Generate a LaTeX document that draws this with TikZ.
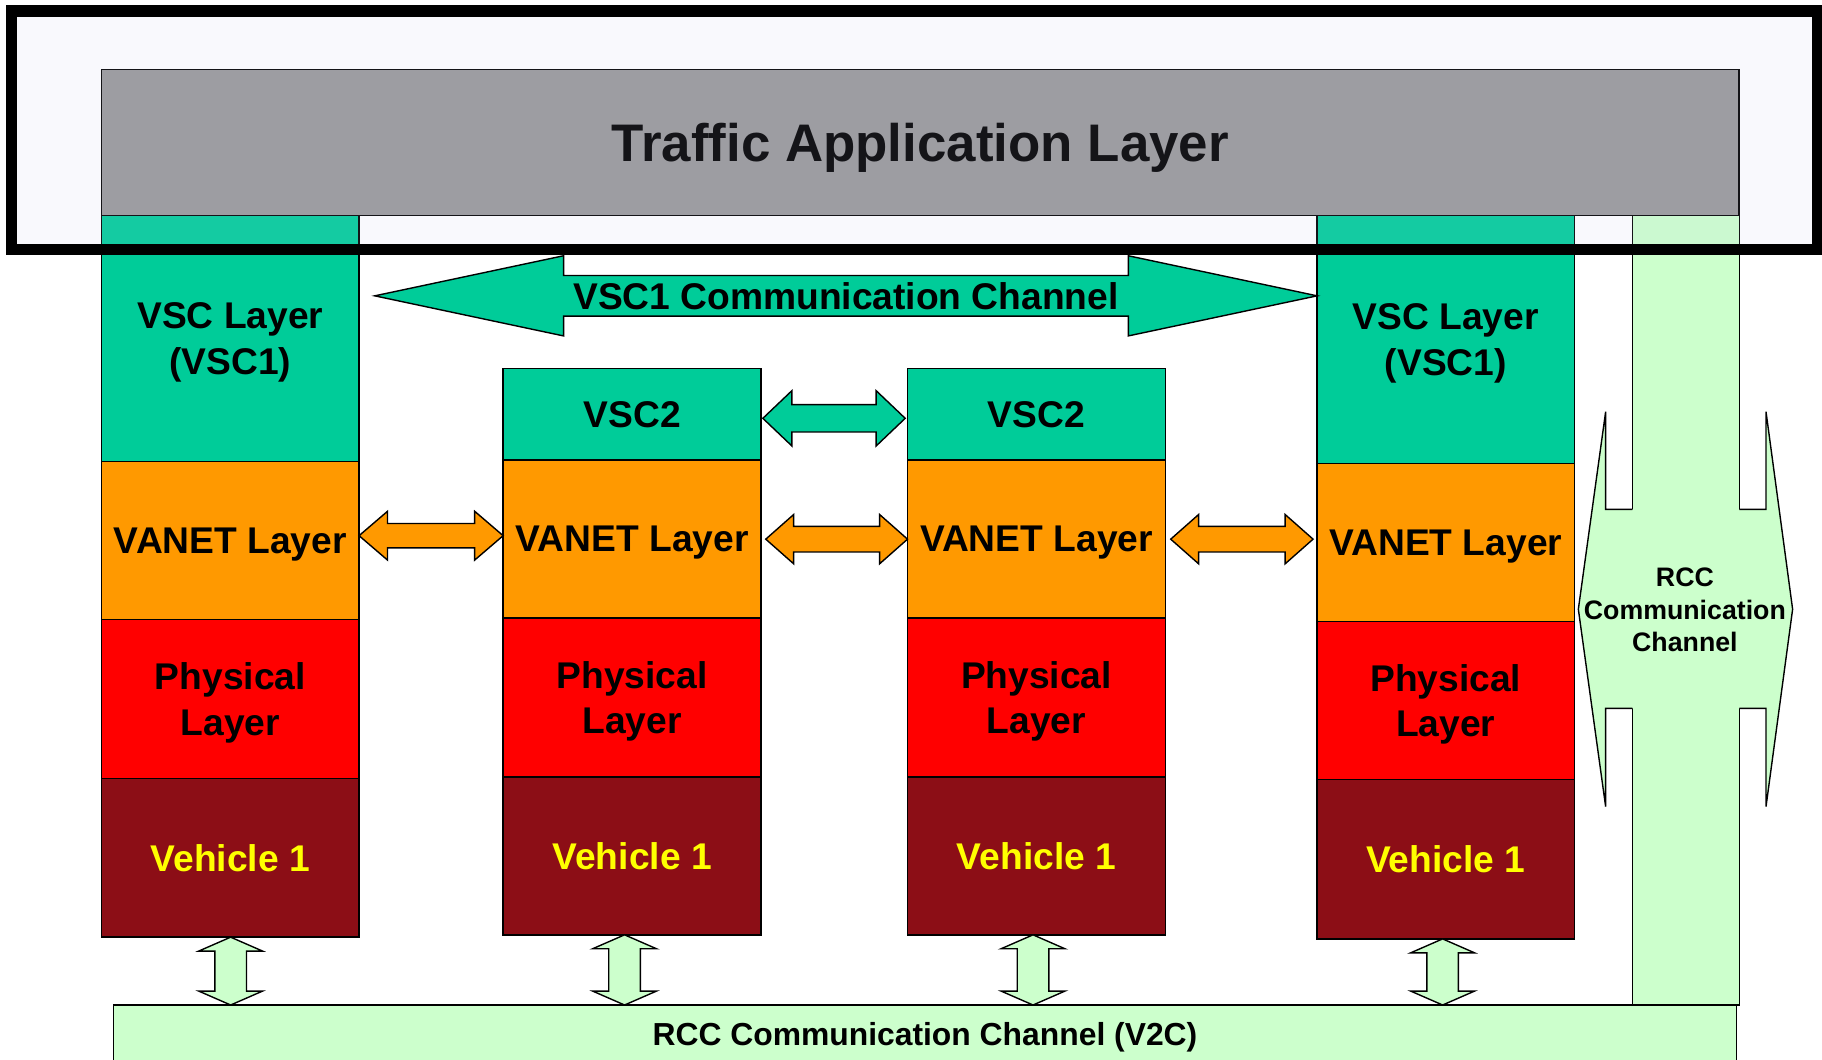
\documentclass[tikz,border=0pt]{standalone}
\usepackage{fontspec}
\setmainfont{Liberation Sans}
\usetikzlibrary{calc}
\definecolor{tgray}{HTML}{999999}
\definecolor{tealc}{HTML}{00CC99}
\definecolor{orng}{HTML}{FF9900}
\definecolor{redl}{HTML}{FF0000}
\definecolor{dred}{HTML}{8C0E16}
\definecolor{ylw}{HTML}{FFFF00}
\definecolor{lgreen}{HTML}{CCFFCC}
\definecolor{lav}{RGB}{200,200,245}
% horizontal double arrow: style, left tip, right tip, head length, head half width, shaft half width
\newcommand\HArr[6]{%
  \draw[#1] let \p1=#2, \p2=#3 in
    (\x1,\y1) -- (\x1+#4,\y1+#5) -- (\x1+#4,\y1+#6) -- (\x2-#4,\y1+#6) -- (\x2-#4,\y1+#5) -- (\x2,\y1)
    -- (\x2-#4,\y1-#5) -- (\x2-#4,\y1-#6) -- (\x1+#4,\y1-#6) -- (\x1+#4,\y1-#5) -- cycle;}
% vertical double arrow: style, top tip, bottom point (y used), head length, head half width, shaft half width
\newcommand\VArr[6]{%
  \draw[#1] let \p1=#2, \p2=#3 in
    (\x1,\y1) -- (\x1+#5,\y1-#4) -- (\x1+#6,\y1-#4) -- (\x1+#6,\y2+#4) -- (\x1+#5,\y2+#4) -- (\x1,\y2)
    -- (\x1-#5,\y2+#4) -- (\x1-#6,\y2+#4) -- (\x1-#6,\y1-#4) -- (\x1-#5,\y1-#4) -- cycle;}
\begin{document}
\begin{tikzpicture}[x=1pt,y=-1pt,
  box/.style={draw, line width=1.3pt, inner sep=0pt, outer sep=0pt, anchor=north west,
    align=center, text depth=0pt, font=\fontsize{32}{39}\selectfont\bfseries},
  vscbox/.style={box, fill=tealc},
  vanetbox/.style={box, fill=orng},
  physbox/.style={box, fill=redl},
  vehbox/.style={box, fill=dred, text=ylw},
  tarr/.style={draw, line width=1.2pt, fill=tealc, line join=miter},
  oarr/.style={draw, line width=1.2pt, fill=orng, line join=miter},
  garr/.style={draw, line width=1.2pt, fill=lgreen, line join=miter},
  lbl/.style={inner sep=0pt, align=center, font=\bfseries}
]
\useasboundingbox (0,0) rectangle (1568,912);
\fill[white] (0,0) rectangle (1568,912);

% bottom RCC bar
\node[box, fill=lgreen, minimum width=1397pt, minimum height=50pt,
  font=\fontsize{27.4}{33}\selectfont\bfseries] (bar) at (97.5,864.9) {RCC Communication Channel (V2C)};

% right RCC column
\draw[line width=1.3pt, fill=lgreen] (1404.8,185.4) rectangle (1496.8,864.9);

% Traffic application layer
\node[box, fill=tgray, minimum width=1409pt, minimum height=125.7pt,
  font=\fontsize{45.5}{54}\selectfont\bfseries] (tal) at (87.5,59.7) {Traffic Application Layer};

% column 1
\node[vscbox, minimum width=221.5pt, minimum height=211.6pt] (c1s) at (87.5,185.4) {VSC Layer\\(VSC1)};
\node[vanetbox, minimum width=221.5pt, minimum height=136pt] (c1v) at (87.5,397) {VANET Layer};
\node[physbox, minimum width=221.5pt, minimum height=137pt] (c1p) at (87.5,533) {Physical\\Layer};
\node[vehbox, minimum width=221.5pt, minimum height=136.5pt] (c1h) at (87.5,670) {Vehicle 1};

% column 2
\node[vscbox, minimum width=222pt, minimum height=79pt] (c2s) at (433,317) {VSC2};
\node[vanetbox, minimum width=222pt, minimum height=136pt] (c2v) at (433,396) {VANET Layer};
\node[physbox, minimum width=222pt, minimum height=136.5pt] (c2p) at (433,532) {Physical\\Layer};
\node[vehbox, minimum width=222pt, minimum height=136pt] (c2h) at (433,668.5) {Vehicle 1};

% column 3
\node[vscbox, minimum width=222pt, minimum height=79pt] (c3s) at (781,317) {VSC2};
\node[vanetbox, minimum width=222pt, minimum height=136pt] (c3v) at (781,396) {VANET Layer};
\node[physbox, minimum width=222pt, minimum height=136.5pt] (c3p) at (781,532) {Physical\\Layer};
\node[vehbox, minimum width=222pt, minimum height=136pt] (c3h) at (781,668.5) {Vehicle 1};

% column 4
\node[vscbox, minimum width=221.5pt, minimum height=213.6pt] (c4s) at (1133.5,185.4) {VSC Layer\\(VSC1)};
\node[vanetbox, minimum width=221.5pt, minimum height=136pt] (c4v) at (1133.5,399) {VANET Layer};
\node[physbox, minimum width=221.5pt, minimum height=136pt] (c4p) at (1133.5,535) {Physical\\Layer};
\node[vehbox, minimum width=221.5pt, minimum height=137pt] (c4h) at (1133.5,671) {Vehicle 1};

% VSC1 communication channel
\coordinate (v1l) at (322.5,254.6);
\HArr{tarr}{(v1l)}{(c4s.west)}{162.5pt}{34.5pt}{17.5pt}
\node[lbl, font=\fontsize{32}{39}\selectfont\bfseries] (vsc1ch) at (728,255) {VSC1 Communication Channel};

% VSC2 arrow
\HArr{tarr}{([shift={(1.5pt,-3.5pt)}]c2s.east)}{([xshift=-2pt]c3s.west)}{25pt}{23.8pt}{11.75pt}

% VANET arrows
\HArr{oarr}{([yshift=4pt]c1v.east)}{(c2v.west)}{24.5pt}{21pt}{10.5pt}
\HArr{oarr}{([xshift=4pt]c2v.east)}{(c3v.west)}{24pt}{21.2pt}{11pt}
\HArr{oarr}{([xshift=4.5pt]c3v.east)}{([xshift=-3.5pt]c4v.west)}{24pt}{21.2pt}{11pt}

% vertical arrows to RCC bar
\VArr{garr}{([xshift=0.25pt]c1h.south)}{(bar.north)}{12pt}{27.5pt}{13.6pt}
\VArr{garr}{([xshift=-6.5pt]c2h.south)}{(bar.north)}{12pt}{27.5pt}{13.6pt}
\VArr{garr}{([xshift=-3pt]c3h.south)}{(bar.north)}{12pt}{27.5pt}{13.6pt}
\VArr{garr}{([xshift=-2.75pt]c4h.south)}{(bar.north)}{12pt}{27.5pt}{13.6pt}

% RCC communication channel arrow merged with the column
\fill[lgreen] (1358.3,524.3) -- (1381.8,354.3) -- (1381.8,438.3) -- (1519.8,438.3) -- (1519.8,354.3)
  -- (1542.7,524.3) -- (1519.8,694.2) -- (1519.8,609.6) -- (1381.8,609.6) -- (1381.8,694.2) -- cycle;
\draw[line width=1.2pt, line join=miter] (1404.8,438.3) -- (1381.8,438.3) -- (1381.8,354.3) -- (1358.3,524.3)
  -- (1381.8,694.2) -- (1381.8,609.6) -- (1404.8,609.6);
\draw[line width=1.2pt, line join=miter] (1496.8,438.3) -- (1519.8,438.3) -- (1519.8,354.3) -- (1542.7,524.3)
  -- (1519.8,694.2) -- (1519.8,609.6) -- (1496.8,609.6);
\node[lbl, font=\fontsize{23}{28}\selectfont\bfseries] (rcc) at (1450,525) {RCC\\Communication\\Channel};

% outer frame with translucent tint
\draw[line width=10pt, fill=lav, fill opacity=0.1] (10,9.5) rectangle (1564,214.6);
\end{tikzpicture}
\end{document}
